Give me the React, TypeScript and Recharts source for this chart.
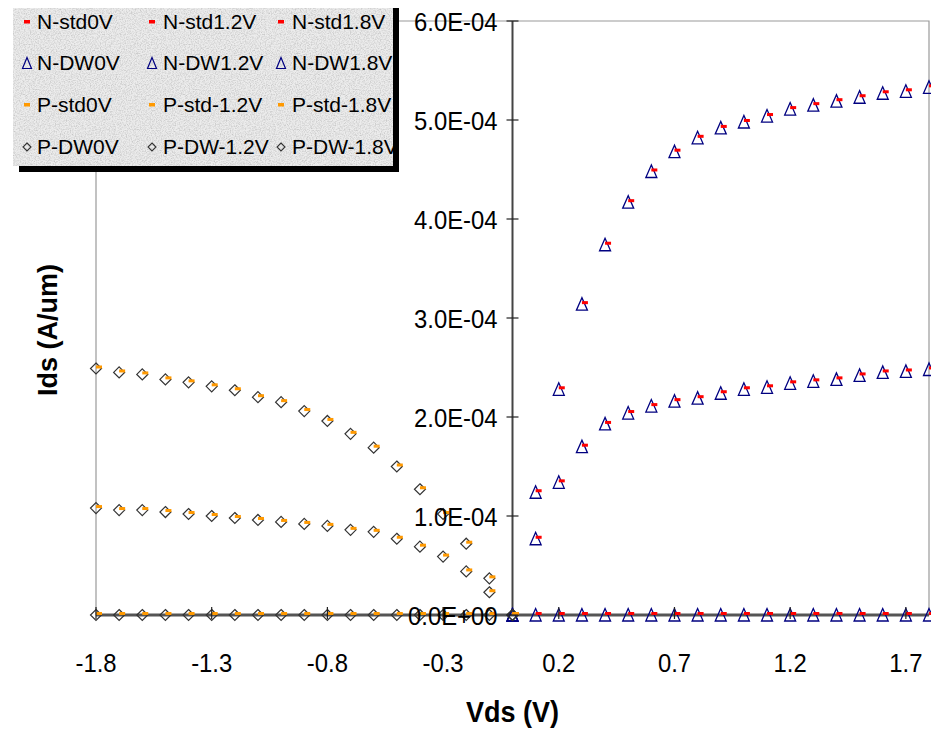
import React from "react";
import {
  Legend,
  ReferenceArea,
  ReferenceLine,
  Scatter,
  ScatterChart,
  XAxis,
  YAxis,
} from "recharts";

// Vds sweep points (V)
const VDS_N = [0, 0.1, 0.2, 0.3, 0.4, 0.5, 0.6, 0.7, 0.8, 0.9, 1.0, 1.1, 1.2, 1.3, 1.4, 1.5, 1.6, 1.7, 1.8];
const VDS_P = [-1.8, -1.7, -1.6, -1.5, -1.4, -1.3, -1.2, -1.1, -1.0, -0.9, -0.8, -0.7, -0.6, -0.5, -0.4, -0.3, -0.2, -0.1, 0];

// Ids (A/um)
const N_0V = [0, 0, 0, 0, 0, 0, 0, 0, 0, 0, 0, 0, 0, 0, 0, 0, 0, 0, 0];
const N_12V = [0, 0.77e-4, 1.34e-4, 1.7e-4, 1.93e-4, 2.04e-4, 2.11e-4, 2.16e-4, 2.19e-4, 2.24e-4, 2.28e-4, 2.3e-4, 2.34e-4, 2.36e-4, 2.38e-4, 2.42e-4, 2.45e-4, 2.46e-4, 2.48e-4];
const N_18V = [0, 1.24e-4, 2.28e-4, 3.14e-4, 3.74e-4, 4.17e-4, 4.48e-4, 4.68e-4, 4.82e-4, 4.92e-4, 4.98e-4, 5.04e-4, 5.11e-4, 5.15e-4, 5.19e-4, 5.23e-4, 5.27e-4, 5.29e-4, 5.33e-4];
const P_0V = [0, 0, 0, 0, 0, 0, 0, 0, 0, 0, 0, 0, 0, 0, 0, 0, 0, 0, 0];
const P_12V = [1.08e-4, 1.06e-4, 1.06e-4, 1.04e-4, 1.02e-4, 1.0e-4, 0.98e-4, 0.96e-4, 0.94e-4, 0.92e-4, 0.9e-4, 0.86e-4, 0.84e-4, 0.77e-4, 0.69e-4, 0.59e-4, 0.44e-4, 0.23e-4, 0];
const P_18V = [2.49e-4, 2.45e-4, 2.43e-4, 2.38e-4, 2.35e-4, 2.31e-4, 2.27e-4, 2.2e-4, 2.15e-4, 2.06e-4, 1.96e-4, 1.83e-4, 1.69e-4, 1.5e-4, 1.27e-4, 1.02e-4, 0.72e-4, 0.37e-4, 0];

const X_TICKS = [-1.8, -1.3, -0.8, -0.3, 0.2, 0.7, 1.2, 1.7];
const Y_TICKS = [0, 1e-4, 2e-4, 3e-4, 4e-4, 5e-4, 6e-4];

const W = 939;
const H = 733;
const MARGIN = { top: 21, right: 10, left: 95, bottom: 0 };
const PLOT_W = W - MARGIN.left - 1 - MARGIN.right;
const FONT = '"Liberation Sans", Arial, sans-serif';
const SQUEEZE = 0.9; // axis text in the original is a little condensed

const RED = "#ff0000";
const NAVY = "#000080";
const ORANGE = "#ff9900";
const DARK = "#333333";

type Kind = "dash" | "tri" | "dia";

const toPts = (xs: number[], ys: number[]) => xs.map((x, i) => ({ x, y: ys[i] }));

// drawn in this order: open markers first, dashes on top
const SERIES: { name: string; kind: Kind; color: string; xs: number[]; ys: number[] }[] = [
  { name: "N-DW0V", kind: "tri", color: NAVY, xs: VDS_N, ys: N_0V },
  { name: "N-DW1.2V", kind: "tri", color: NAVY, xs: VDS_N, ys: N_12V },
  { name: "N-DW1.8V", kind: "tri", color: NAVY, xs: VDS_N, ys: N_18V },
  { name: "P-DW0V", kind: "dia", color: DARK, xs: VDS_P, ys: P_0V },
  { name: "P-DW-1.2V", kind: "dia", color: DARK, xs: VDS_P, ys: P_12V },
  { name: "P-DW-1.8V", kind: "dia", color: DARK, xs: VDS_P, ys: P_18V },
  { name: "N-std0V", kind: "dash", color: RED, xs: VDS_N, ys: N_0V },
  { name: "N-std1.2V", kind: "dash", color: RED, xs: VDS_N, ys: N_12V },
  { name: "N-std1.8V", kind: "dash", color: RED, xs: VDS_N, ys: N_18V },
  { name: "P-std0V", kind: "dash", color: ORANGE, xs: VDS_P, ys: P_0V },
  { name: "P-std-1.2V", kind: "dash", color: ORANGE, xs: VDS_P, ys: P_12V },
  { name: "P-std-1.8V", kind: "dash", color: ORANGE, xs: VDS_P, ys: P_18V },
];

const LEGEND_ROWS: { kind: Kind; color: string; names: string[] }[] = [
  { kind: "dash", color: RED, names: ["N-std0V", "N-std1.2V", "N-std1.8V"] },
  { kind: "tri", color: NAVY, names: ["N-DW0V", "N-DW1.2V", "N-DW1.8V"] },
  { kind: "dash", color: ORANGE, names: ["P-std0V", "P-std-1.2V", "P-std-1.8V"] },
  { kind: "dia", color: DARK, names: ["P-DW0V", "P-DW-1.2V", "P-DW-1.8V"] },
];

function fmtSci(v: number) {
  const [m, e] = v.toExponential(1).split("e");
  const n = Number(e);
  return `${m}E${n < 0 ? "-" : "+"}${String(Math.abs(n)).padStart(2, "0")}`;
}

function Marker({ cx, cy, kind, color }: { cx: number; cy: number; kind: Kind; color: string }) {
  if (cx == null || cy == null) return null;
  if (kind === "tri") {
    return (
      <polygon
        points={`${cx},${cy - 6.5} ${cx - 5.5},${cy + 6} ${cx + 5.5},${cy + 6}`}
        fill="none"
        stroke={color}
        strokeWidth={1.3}
      />
    );
  }
  if (kind === "dia") {
    return (
      <polygon
        points={`${cx},${cy - 5.5} ${cx + 5.5},${cy} ${cx},${cy + 5.5} ${cx - 5.5},${cy}`}
        fill="none"
        stroke={color}
        strokeWidth={1.2}
      />
    );
  }
  return <rect x={cx} y={cy - 3} width={6} height={3} fill={color} />;
}

function YTick(props: any) {
  const { x, y, payload } = props;
  const ax = x + PLOT_W / 2; // value axis crosses at Vds = 0
  return (
    <g>
      <line x1={ax - 6} x2={ax + 6} y1={y} y2={y} stroke="#222" strokeWidth={1.2} />
      <text
        transform={`translate(${ax - 15},${y}) scale(${SQUEEZE},1)`}
        dy="0.36em"
        textAnchor="end"
        fontSize={26.5}
        fill="#000"
        fontFamily={FONT}
      >
        {fmtSci(payload.value)}
      </text>
    </g>
  );
}

function XTick(props: any) {
  const { x, y, payload } = props;
  return (
    <g>
      <line x1={x} x2={x} y1={y - 8} y2={y + 4} stroke="#222" strokeWidth={1.2} />
      <text
        transform={`translate(${x},${y + 57}) scale(${SQUEEZE},1)`}
        textAnchor="middle"
        fontSize={26.5}
        fill="#000"
        fontFamily={FONT}
      >
        {payload.value}
      </text>
    </g>
  );
}

function LegendMark({ kind, color }: { kind: Kind; color: string }) {
  return (
    <svg width={12} height={14} style={{ position: "absolute", left: -6, top: 5 }}>
      {kind === "dash" && <rect x={3} y={5} width={6} height={3.5} fill={color} />}
      {kind === "tri" && <polygon points="6,1.5 1.5,12.5 10.5,12.5" fill="none" stroke={color} strokeWidth={1.2} />}
      {kind === "dia" && <polygon points="6,3 10,7 6,11 2,7" fill="none" stroke={color} strokeWidth={1.1} />}
    </svg>
  );
}

const NOISE =
  "url(\"data:image/svg+xml;utf8,<svg xmlns='http://www.w3.org/2000/svg' width='160' height='160'>" +
  "<filter id='n'><feTurbulence type='fractalNoise' baseFrequency='0.8' numOctaves='3' stitchTiles='stitch'/>" +
  "<feColorMatrix values='0 0 0 0 0.5  0 0 0 0 0.5  0 0 0 0 0.5  1.6 0 0 0 -0.62'/></filter>" +
  "<rect width='100%' height='100%' fill='%23ececec'/><rect width='100%' height='100%' filter='url(%23n)'/></svg>\")";

const COL_X = [14, 139, 268];
const COL_TEXT = [24, 150, 279];
const ROW_Y = [8, 49, 91, 133];

function LegendBox() {
  return (
    <div
      style={{
        position: "relative",
        width: 380,
        height: 164,
        backgroundColor: "#e8e8e8",
        backgroundImage: NOISE,
        boxShadow: "6px 6px 0 #000",
        fontFamily: FONT,
        fontSize: 21,
        color: "#000",
      }}
    >
      {LEGEND_ROWS.map((row, r) =>
        row.names.map((name, c) => (
          <div key={name} style={{ position: "absolute", left: COL_X[c], top: ROW_Y[r], whiteSpace: "nowrap" }}>
            <LegendMark kind={row.kind} color={row.color} />
            <span style={{ position: "absolute", left: COL_TEXT[c] - COL_X[c], top: 0, lineHeight: "24px" }}>{name}</span>
          </div>
        )),
      )}
    </div>
  );
}

export default function App() {
  return (
    <div style={{ marginLeft: -8, marginTop: -8, width: W, height: H, background: "#fff", fontFamily: FONT }}>
      <ScatterChart width={W} height={H} margin={MARGIN}>
        <ReferenceArea x1={-1.8} x2={1.8} y1={0} y2={6e-4} fill="none" stroke="#9a9a9a" strokeWidth={1.2} />
        <XAxis
          type="number"
          dataKey="x"
          domain={[-1.8, 1.8]}
          ticks={X_TICKS}
          interval={0}
          height={118}
          tickSize={0}
          tickMargin={0}
          tickLine={false}
          axisLine={{ stroke: "#555", strokeWidth: 3 }}
          tick={<XTick />}
          label={(p: any) => {
            const vb = p.viewBox;
            return (
              <text
                transform={`translate(${vb.x + vb.width / 2},${vb.y + 107}) scale(${SQUEEZE},1)`}
                textAnchor="middle"
                fontSize={30}
                fontWeight="bold"
                fontFamily={FONT}
                fill="#000"
              >
                Vds (V)
              </text>
            );
          }}
        />
        <YAxis
          type="number"
          dataKey="y"
          domain={[0, 6e-4]}
          ticks={Y_TICKS}
          interval={0}
          width={1}
          tickSize={0}
          tickMargin={0}
          tickLine={false}
          axisLine={false}
          tick={<YTick />}
          label={(p: any) => {
            const vb = p.viewBox;
            const cy = vb.y + vb.height / 2 + 12;
            return (
              <text x={48} y={cy} transform={`rotate(-90 48 ${cy})`} dy="0.35em" textAnchor="middle" fontSize={27} fontWeight="bold" fontFamily={FONT} fill="#000">
                Ids (A/um)
              </text>
            );
          }}
        />
        <ReferenceLine x={0} stroke="#444" strokeWidth={2} />
        {SERIES.map((s) => (
          <Scatter
            key={s.name}
            name={s.name}
            data={toPts(s.xs, s.ys)}
            isAnimationActive={false}
            shape={(p: any) => <Marker cx={p.cx} cy={p.cy} kind={s.kind} color={s.color} />}
          />
        ))}
        <Legend
          layout="horizontal"
          verticalAlign="middle"
          align="center"
          wrapperStyle={{ top: 2, left: 13, width: 380, height: 164 }}
          content={() => <LegendBox />}
        />
      </ScatterChart>
    </div>
  );
}
